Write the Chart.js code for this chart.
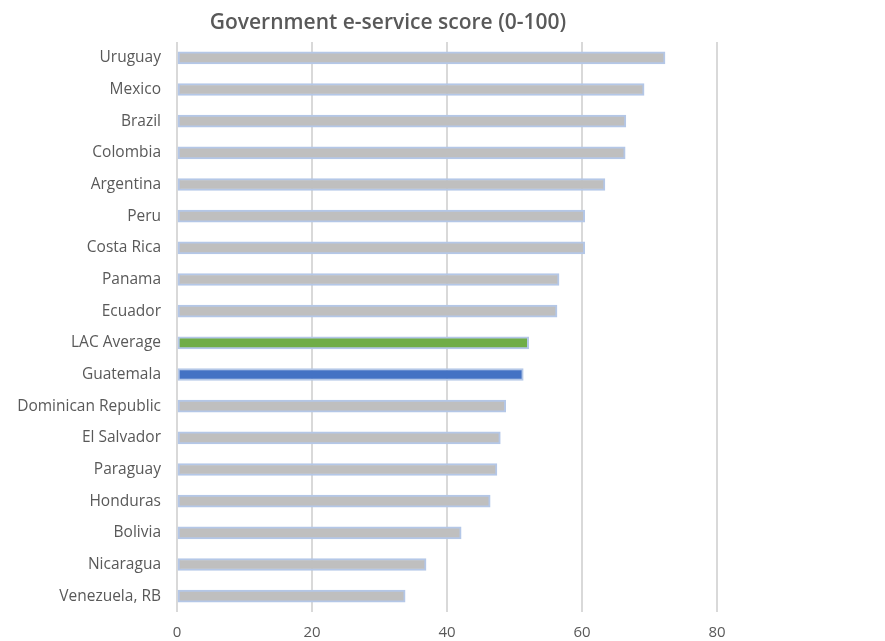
<!DOCTYPE html>
<html>
<head>
<meta charset="utf-8">
<script src="https://cdn.jsdelivr.net/npm/chart.js@4/dist/chart.umd.min.js"></script>
<style>
  html, body { margin: 0; padding: 0; background: #fff; }
  #wrap { width: 885px; height: 641px; }
</style>
</head>
<body>
<div id="wrap"><canvas id="chart"></canvas></div>
<script>
const countries = [
  'Uruguay', 'Mexico', 'Brazil', 'Colombia', 'Argentina', 'Peru', 'Costa Rica',
  'Panama', 'Ecuador', 'LAC Average', 'Guatemala', 'Dominican Republic',
  'El Salvador', 'Paraguay', 'Honduras', 'Bolivia', 'Nicaragua', 'Venezuela, RB'
];
const scores = [
  72.3, 69.2, 66.5, 66.4, 63.4, 60.4, 60.4,
  56.6, 56.3, 52.1, 51.3, 48.7,
  47.9, 47.4, 46.4, 42.1, 36.9, 33.8
];
const xTicks = [0, 20, 40, 60, 80];

const fillFor = (name) => {
  if (name === 'LAC Average') return '#70ad47';
  if (name === 'Guatemala') return '#4472c4';
  return '#bfbfbf';
};

// title drawn by hand so it can sit left of the plot centre
const titlePlugin = {
  id: 'chartTitle',
  afterDraw(chart) {
    const ctx = chart.ctx;
    ctx.save();
    ctx.font = '600 21px "Open Sans"';
    ctx.fillStyle = '#595959';
    ctx.textAlign = 'center';
    ctx.textBaseline = 'middle';
    ctx.fillText('Government e-service score (0-100)', 388, 23);
    ctx.restore();
  }
};

new Chart(document.getElementById('chart'), {
  type: 'bar',
  data: {
    labels: countries,
    datasets: [{
      data: scores,
      backgroundColor: countries.map(fillFor),
      borderColor: '#b4c7e7',
      borderWidth: 2,
      borderSkipped: false,
      barThickness: 12
    }]
  },
  options: {
    indexAxis: 'y',
    responsive: true,
    maintainAspectRatio: false,
    animation: false,
    layout: { padding: { top: 42, right: 168, left: 0, bottom: 0 } },
    plugins: {
      legend: { display: false },
      tooltip: { enabled: false }
    },
    scales: {
      x: {
        min: 0,
        max: 80,
        afterBuildTicks: (axis) => { axis.ticks = xTicks.map(v => ({ value: v })); },
        afterFit: (axis) => { axis.height = 29; },
        grid: { color: '#d9d9d9', lineWidth: 2, drawTicks: false },
        border: { display: false },
        ticks: { color: '#595959', font: { family: 'Open Sans', size: 15 }, padding: 12 }
      },
      y: {
        afterFit: (axis) => { axis.width = 177; },
        grid: { display: false, drawTicks: false },
        border: { display: false },
        ticks: { color: '#595959', font: { family: 'Open Sans', size: 15.5 }, padding: 16 }
      }
    }
  },
  plugins: [titlePlugin]
});
</script>
</body>
</html>
